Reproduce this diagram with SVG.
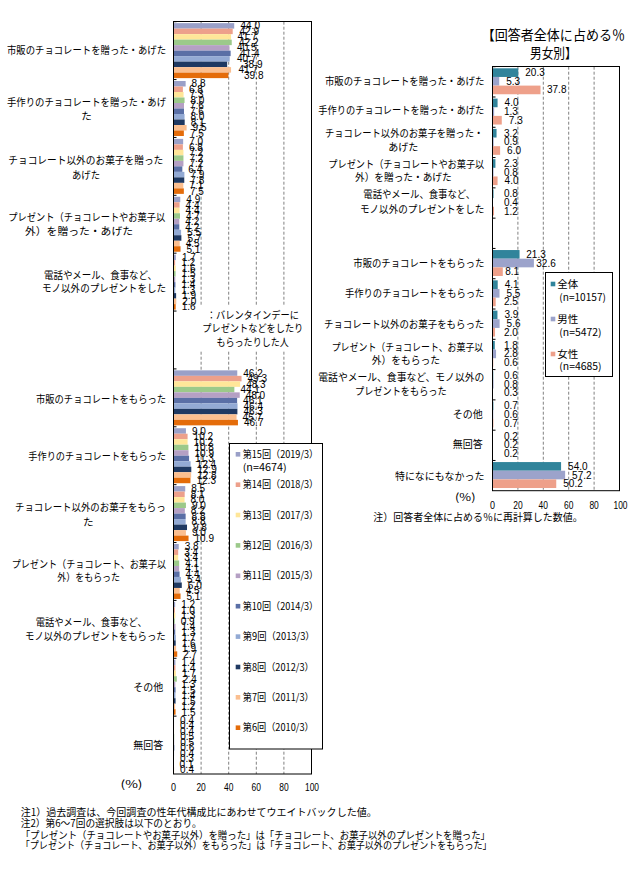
<svg xmlns="http://www.w3.org/2000/svg" width="636" height="869" viewBox="0 0 636 869">
<style>
.c0{fill:#9AA0C8}.c1{fill:#EDA08B}.c2{fill:#FFE699}.c3{fill:#9CC98A}.c4{fill:#B5A0C4}
.c5{fill:#5A6FA6}.c6{fill:#93AAD4}.c7{fill:#1F3962}.c8{fill:#FBBF90}.c9{fill:#E46C0A}
.rt{fill:#31849B}.rm{fill:#9CA3CB}.rf{fill:#EEA08A}
.j{font-family:"Noto Sans CJK JP","Noto Sans CJK SC",sans-serif;font-size:10.5px;fill:#000}
.jl{font-family:"Noto Sans CJK JP","Noto Sans CJK SC",sans-serif;font-size:10px;fill:#000}
.jt{font-family:"Noto Sans CJK JP","Noto Sans CJK SC",sans-serif;font-size:13.5px;fill:#000}
.n{font-family:"Liberation Sans",Arial,sans-serif;font-size:10px;fill:#000}
.ax{font-family:"Liberation Sans",Arial,sans-serif;font-size:11.5px;fill:#000;text-anchor:middle}
.grid{stroke:#808080;stroke-width:1;stroke-dasharray:3,2;fill:none}
.frame{fill:none;stroke:#000;stroke-width:1}
.box{fill:#fff;stroke:#000;stroke-width:1}
.m{text-anchor:middle}
</style>
<rect width="636" height="869" fill="#fff"/>

<!-- LEFT CHART -->
<g id="left-chart">
<g id="left-grid">
<path class="grid" d="M201.1 21.7V774M228.7 21.7V774M256.3 21.7V774M283.9 21.7V774"/>
</g>
<g id="left-g0" transform="translate(0,21.7)">
<rect class="c0" x="173.5" y="1.43" width="60.72" height="5.5"/><rect class="c1" x="173.5" y="6.93" width="59.2" height="5.5"/><rect class="c2" x="173.5" y="12.43" width="57.55" height="5.5"/><rect class="c3" x="173.5" y="17.93" width="58.24" height="5.5"/><rect class="c4" x="173.5" y="23.43" width="55.89" height="5.5"/><rect class="c5" x="173.5" y="28.93" width="57.13" height="5.5"/><rect class="c6" x="173.5" y="34.43" width="56.17" height="5.5"/><rect class="c7" x="173.5" y="39.93" width="53.68" height="5.5"/><rect class="c8" x="173.5" y="45.43" width="57.55" height="5.5"/><rect class="c9" x="173.5" y="50.93" width="54.92" height="5.5"/>
<text class="n" x="240.5" y="7.78">44.0</text><text class="n" x="239.5" y="13.28">42.9</text><text class="n" x="237.5" y="18.78">41.7</text><text class="n" x="239" y="24.28">42.2</text><text class="n" x="237" y="29.78">40.5</text><text class="n" x="240" y="35.28">41.4</text><text class="n" x="237" y="40.78">40.7</text><text class="n" x="243" y="46.28">38.9</text><text class="n" x="238.5" y="51.78">41.7</text><text class="n" x="244" y="57.28">39.8</text>
</g>
<g id="left-g1" transform="translate(0,79.57)">
<rect class="c0" x="173.5" y="1.43" width="12.14" height="5.5"/><rect class="c1" x="173.5" y="6.93" width="9.38" height="5.5"/><rect class="c2" x="173.5" y="12.43" width="10.07" height="5.5"/><rect class="c3" x="173.5" y="17.93" width="11.04" height="5.5"/><rect class="c4" x="173.5" y="23.43" width="10.49" height="5.5"/><rect class="c5" x="173.5" y="28.93" width="10.49" height="5.5"/><rect class="c6" x="173.5" y="34.43" width="11.04" height="5.5"/><rect class="c7" x="173.5" y="39.93" width="11.18" height="5.5"/><rect class="c8" x="173.5" y="45.43" width="13.11" height="5.5"/><rect class="c9" x="173.5" y="50.93" width="10.35" height="5.5"/>
<text class="n" x="191.6" y="7.78">8.8</text><text class="n" x="188.9" y="13.28">6.8</text><text class="n" x="189.6" y="18.78">7.3</text><text class="n" x="190.5" y="24.28">8.0</text><text class="n" x="190" y="29.78">7.6</text><text class="n" x="190" y="35.28">7.6</text><text class="n" x="190.5" y="40.78">8.0</text><text class="n" x="190.7" y="46.28">8.1</text><text class="n" x="192.6" y="51.78">9.5</text><text class="n" x="189.9" y="57.28">7.5</text>
</g>
<g id="left-g2" transform="translate(0,137.44)">
<rect class="c0" x="173.5" y="1.43" width="9.66" height="5.5"/><rect class="c1" x="173.5" y="6.93" width="9.38" height="5.5"/><rect class="c2" x="173.5" y="12.43" width="9.94" height="5.5"/><rect class="c3" x="173.5" y="17.93" width="9.94" height="5.5"/><rect class="c4" x="173.5" y="23.43" width="9.94" height="5.5"/><rect class="c5" x="173.5" y="28.93" width="8.83" height="5.5"/><rect class="c6" x="173.5" y="34.43" width="10.9" height="5.5"/><rect class="c7" x="173.5" y="39.93" width="10.76" height="5.5"/><rect class="c8" x="173.5" y="45.43" width="9.8" height="5.5"/><rect class="c9" x="173.5" y="50.93" width="10.35" height="5.5"/>
<text class="n" x="189.2" y="7.78">7.0</text><text class="n" x="188.9" y="13.28">6.8</text><text class="n" x="189.4" y="18.78">7.2</text><text class="n" x="189.4" y="24.28">7.2</text><text class="n" x="189.4" y="29.78">7.2</text><text class="n" x="188.3" y="35.28">6.4</text><text class="n" x="190.4" y="40.78">7.9</text><text class="n" x="190.3" y="46.28">7.8</text><text class="n" x="189.3" y="51.78">7.1</text><text class="n" x="189.9" y="57.28">7.5</text>
</g>
<g id="left-g3" transform="translate(0,195.31)">
<rect class="c0" x="173.5" y="1.43" width="6.76" height="5.5"/><rect class="c1" x="173.5" y="6.93" width="6.07" height="5.5"/><rect class="c2" x="173.5" y="12.43" width="6.07" height="5.5"/><rect class="c3" x="173.5" y="17.93" width="6.49" height="5.5"/><rect class="c4" x="173.5" y="23.43" width="5.8" height="5.5"/><rect class="c5" x="173.5" y="28.93" width="5.8" height="5.5"/><rect class="c6" x="173.5" y="34.43" width="7.59" height="5.5"/><rect class="c7" x="173.5" y="39.93" width="7.87" height="5.5"/><rect class="c8" x="173.5" y="45.43" width="6.21" height="5.5"/><rect class="c9" x="173.5" y="50.93" width="7.04" height="5.5"/>
<text class="n" x="186.3" y="7.78">4.9</text><text class="n" x="185.6" y="13.28">4.4</text><text class="n" x="185.6" y="18.78">4.4</text><text class="n" x="186" y="24.28">4.7</text><text class="n" x="185.3" y="29.78">4.2</text><text class="n" x="185.3" y="35.28">4.2</text><text class="n" x="187.1" y="40.78">5.5</text><text class="n" x="187.4" y="46.28">5.7</text><text class="n" x="185.7" y="51.78">4.5</text><text class="n" x="186.5" y="57.28">5.1</text>
</g>
<g id="left-g4" transform="translate(0,253.18)">
<rect class="c0" x="173.5" y="1.43" width="2.35" height="5.5"/><rect class="c1" x="173.5" y="6.93" width="1.66" height="5.5"/><rect class="c2" x="173.5" y="12.43" width="2.21" height="5.5"/><rect class="c3" x="173.5" y="17.93" width="2.07" height="5.5"/><rect class="c4" x="173.5" y="23.43" width="1.79" height="5.5"/><rect class="c5" x="173.5" y="28.93" width="1.93" height="5.5"/><rect class="c6" x="173.5" y="34.43" width="1.79" height="5.5"/><rect class="c7" x="173.5" y="39.93" width="2.62" height="5.5"/><rect class="c8" x="173.5" y="45.43" width="2.76" height="5.5"/><rect class="c9" x="173.5" y="50.93" width="2.21" height="5.5"/>
<text class="n" x="181.9" y="7.78">1.7</text><text class="n" x="181.2" y="13.28">1.2</text><text class="n" x="181.7" y="18.78">1.6</text><text class="n" x="181.6" y="24.28">1.5</text><text class="n" x="181.3" y="29.78">1.3</text><text class="n" x="181.4" y="35.28">1.4</text><text class="n" x="181.3" y="40.78">1.3</text><text class="n" x="182.1" y="46.28">1.9</text><text class="n" x="182.3" y="51.78">2.0</text><text class="n" x="181.7" y="57.28">1.6</text>
</g>
<g id="left-note">
<rect x="199" y="306" width="109" height="44" fill="#fff"/>
<text class="j" x="206.7" y="318.8" textLength="92.3" lengthAdjust="spacingAndGlyphs">：バレンタインデーに</text>
<text class="j" x="202.3" y="332.1" textLength="101" lengthAdjust="spacingAndGlyphs">プレゼントなどをしたり</text>
<text class="j" x="216.5" y="345.5" textLength="72.3" lengthAdjust="spacingAndGlyphs">もらったりした人</text>
</g>
<g id="left-g6" transform="translate(0,368.92)">
<rect class="c0" x="173.5" y="1.43" width="63.76" height="5.5"/><rect class="c1" x="173.5" y="6.93" width="68.03" height="5.5"/><rect class="c2" x="173.5" y="12.43" width="66.65" height="5.5"/><rect class="c3" x="173.5" y="17.93" width="60.86" height="5.5"/><rect class="c4" x="173.5" y="23.43" width="66.24" height="5.5"/><rect class="c5" x="173.5" y="28.93" width="63.62" height="5.5"/><rect class="c6" x="173.5" y="34.43" width="64.03" height="5.5"/><rect class="c7" x="173.5" y="39.93" width="63.89" height="5.5"/><rect class="c8" x="173.5" y="45.43" width="63.07" height="5.5"/><rect class="c9" x="173.5" y="50.93" width="64.45" height="5.5"/>
<text class="n" x="243.3" y="7.78">46.2</text><text class="n" x="247.5" y="13.28">49.3</text><text class="n" x="246.2" y="18.78">48.3</text><text class="n" x="240.4" y="24.28">44.1</text><text class="n" x="245.7" y="29.78">48.0</text><text class="n" x="243.1" y="35.28">46.1</text><text class="n" x="243.5" y="40.78">46.4</text><text class="n" x="243.4" y="46.28">46.3</text><text class="n" x="242.6" y="51.78">45.7</text><text class="n" x="244" y="57.28">46.7</text>
</g>
<g id="left-g7" transform="translate(0,426.79)">
<rect class="c0" x="173.5" y="1.43" width="12.42" height="5.5"/><rect class="c1" x="173.5" y="6.93" width="14.08" height="5.5"/><rect class="c2" x="173.5" y="12.43" width="14.08" height="5.5"/><rect class="c3" x="173.5" y="17.93" width="14.9" height="5.5"/><rect class="c4" x="173.5" y="23.43" width="15.04" height="5.5"/><rect class="c5" x="173.5" y="28.93" width="15.59" height="5.5"/><rect class="c6" x="173.5" y="34.43" width="17.11" height="5.5"/><rect class="c7" x="173.5" y="39.93" width="17.8" height="5.5"/><rect class="c8" x="173.5" y="45.43" width="17.66" height="5.5"/><rect class="c9" x="173.5" y="50.93" width="16.97" height="5.5"/>
<text class="n" x="191.9" y="7.78">9.0</text><text class="n" x="193.6" y="13.28">10.2</text><text class="n" x="193.6" y="18.78">10.2</text><text class="n" x="194.4" y="24.28">10.8</text><text class="n" x="194.5" y="29.78">10.9</text><text class="n" x="195.1" y="35.28">11.3</text><text class="n" x="196.6" y="40.78">12.4</text><text class="n" x="197.3" y="46.28">12.9</text><text class="n" x="197.2" y="51.78">12.8</text><text class="n" x="196.5" y="57.28">12.3</text>
</g>
<g id="left-g8" transform="translate(0,484.66)">
<rect class="c0" x="173.5" y="1.43" width="11.73" height="5.5"/><rect class="c1" x="173.5" y="6.93" width="11.18" height="5.5"/><rect class="c2" x="173.5" y="12.43" width="11.04" height="5.5"/><rect class="c3" x="173.5" y="17.93" width="12.42" height="5.5"/><rect class="c4" x="173.5" y="23.43" width="11.32" height="5.5"/><rect class="c5" x="173.5" y="28.93" width="12.14" height="5.5"/><rect class="c6" x="173.5" y="34.43" width="12.14" height="5.5"/><rect class="c7" x="173.5" y="39.93" width="13.52" height="5.5"/><rect class="c8" x="173.5" y="45.43" width="12.42" height="5.5"/><rect class="c9" x="173.5" y="50.93" width="15.04" height="5.5"/>
<text class="n" x="191.2" y="7.78">8.5</text><text class="n" x="190.7" y="13.28">8.1</text><text class="n" x="190.5" y="18.78">8.0</text><text class="n" x="191.9" y="24.28">9.0</text><text class="n" x="190.8" y="29.78">8.2</text><text class="n" x="191.6" y="35.28">8.8</text><text class="n" x="191.6" y="40.78">8.8</text><text class="n" x="193" y="46.28">9.8</text><text class="n" x="191.9" y="51.78">9.0</text><text class="n" x="194.5" y="57.28">10.9</text>
</g>
<g id="left-g9" transform="translate(0,542.53)">
<rect class="c0" x="173.5" y="1.43" width="5.24" height="5.5"/><rect class="c1" x="173.5" y="6.93" width="4.69" height="5.5"/><rect class="c2" x="173.5" y="12.43" width="4.69" height="5.5"/><rect class="c3" x="173.5" y="17.93" width="5.66" height="5.5"/><rect class="c4" x="173.5" y="23.43" width="5.66" height="5.5"/><rect class="c5" x="173.5" y="28.93" width="6.07" height="5.5"/><rect class="c6" x="173.5" y="34.43" width="7.45" height="5.5"/><rect class="c7" x="173.5" y="39.93" width="8.28" height="5.5"/><rect class="c8" x="173.5" y="45.43" width="6.21" height="5.5"/><rect class="c9" x="173.5" y="50.93" width="7.04" height="5.5"/>
<text class="n" x="184.7" y="7.78">3.8</text><text class="n" x="184.2" y="13.28">3.4</text><text class="n" x="184.2" y="18.78">3.4</text><text class="n" x="185.2" y="24.28">4.1</text><text class="n" x="185.2" y="29.78">4.1</text><text class="n" x="185.6" y="35.28">4.4</text><text class="n" x="187" y="40.78">5.4</text><text class="n" x="187.8" y="46.28">6.0</text><text class="n" x="185.7" y="51.78">4.5</text><text class="n" x="186.5" y="57.28">5.1</text>
</g>
<g id="left-g10" transform="translate(0,600.4)">
<rect class="c0" x="173.5" y="1.43" width="1.66" height="5.5"/><rect class="c1" x="173.5" y="6.93" width="1.38" height="5.5"/><rect class="c2" x="173.5" y="12.43" width="1.79" height="5.5"/><rect class="c3" x="173.5" y="17.93" width="1.24" height="5.5"/><rect class="c4" x="173.5" y="23.43" width="1.93" height="5.5"/><rect class="c5" x="173.5" y="28.93" width="1.79" height="5.5"/><rect class="c6" x="173.5" y="34.43" width="2.35" height="5.5"/><rect class="c7" x="173.5" y="39.93" width="2.21" height="5.5"/><rect class="c8" x="173.5" y="45.43" width="2.62" height="5.5"/><rect class="c9" x="173.5" y="50.93" width="3.73" height="5.5"/>
<text class="n" x="181.2" y="7.78">1.2</text><text class="n" x="180.9" y="13.28">1.0</text><text class="n" x="181.3" y="18.78">1.3</text><text class="n" x="180.7" y="24.28">0.9</text><text class="n" x="181.4" y="29.78">1.4</text><text class="n" x="181.3" y="35.28">1.3</text><text class="n" x="181.9" y="40.78">1.7</text><text class="n" x="181.7" y="46.28">1.6</text><text class="n" x="182.1" y="51.78">1.9</text><text class="n" x="183.2" y="57.28">2.7</text>
</g>
<g id="left-g11" transform="translate(0,658.27)">
<rect class="c0" x="173.5" y="1.43" width="1.93" height="5.5"/><rect class="c1" x="173.5" y="6.93" width="1.93" height="5.5"/><rect class="c2" x="173.5" y="12.43" width="2.35" height="5.5"/><rect class="c3" x="173.5" y="17.93" width="3.31" height="5.5"/><rect class="c4" x="173.5" y="23.43" width="1.79" height="5.5"/><rect class="c5" x="173.5" y="28.93" width="2.07" height="5.5"/><rect class="c6" x="173.5" y="34.43" width="1.93" height="5.5"/><rect class="c7" x="173.5" y="39.93" width="2.07" height="5.5"/><rect class="c8" x="173.5" y="45.43" width="1.66" height="5.5"/><rect class="c9" x="173.5" y="50.93" width="2.07" height="5.5"/>
<text class="n" x="181.4" y="7.78">1.4</text><text class="n" x="181.4" y="13.28">1.4</text><text class="n" x="181.9" y="18.78">1.7</text><text class="n" x="182.8" y="24.28">2.4</text><text class="n" x="181.3" y="29.78">1.3</text><text class="n" x="181.6" y="35.28">1.5</text><text class="n" x="181.4" y="40.78">1.4</text><text class="n" x="181.6" y="46.28">1.5</text><text class="n" x="181.2" y="51.78">1.2</text><text class="n" x="181.6" y="57.28">1.5</text>
</g>
<g id="left-g12" transform="translate(0,716.14)">
<rect class="c0" x="173.5" y="1.43" width="0.55" height="5.5"/><rect class="c1" x="173.5" y="6.93" width="0.55" height="5.5"/><rect class="c2" x="173.5" y="12.43" width="0.55" height="5.5"/><rect class="c3" x="173.5" y="17.93" width="0.69" height="5.5"/><rect class="c4" x="173.5" y="23.43" width="0.69" height="5.5"/><rect class="c5" x="173.5" y="28.93" width="0.83" height="5.5"/><rect class="c6" x="173.5" y="34.43" width="0.55" height="5.5"/><rect class="c7" x="173.5" y="39.93" width="0.41" height="5.5"/><rect class="c8" x="173.5" y="45.43" width="0.14" height="5.5"/><rect class="c9" x="173.5" y="50.93" width="0.55" height="5.5"/>
<text class="n" x="180.1" y="7.78">0.4</text><text class="n" x="180.1" y="13.28">0.4</text><text class="n" x="180.1" y="18.78">0.4</text><text class="n" x="180.2" y="24.28">0.5</text><text class="n" x="180.2" y="29.78">0.5</text><text class="n" x="180.3" y="35.28">0.6</text><text class="n" x="180.1" y="40.78">0.4</text><text class="n" x="179.9" y="46.28">0.3</text><text class="n" x="179.6" y="51.78">0.1</text><text class="n" x="180.1" y="57.28">0.4</text>
</g>
<g id="left-axes">
<rect class="frame" x="173.5" y="21.5" width="138" height="752.5"/>
<path class="frame" d="M173.5 21.7h3M173.5 79.57h3M173.5 137.44h3M173.5 195.31h3M173.5 253.18h3M173.5 311.05h3M173.5 368.92h3M173.5 426.79h3M173.5 484.66h3M173.5 542.53h3M173.5 600.4h3M173.5 658.27h3M173.5 716.14h3"/>
<text class="ax" x="173.5" y="791" textLength="5" lengthAdjust="spacingAndGlyphs">0</text>
<text class="ax" x="201.1" y="791" textLength="9.4" lengthAdjust="spacingAndGlyphs">20</text>
<text class="ax" x="228.7" y="791" textLength="9.4" lengthAdjust="spacingAndGlyphs">40</text>
<text class="ax" x="256.3" y="791" textLength="9.4" lengthAdjust="spacingAndGlyphs">60</text>
<text class="ax" x="283.9" y="791" textLength="9.4" lengthAdjust="spacingAndGlyphs">80</text>
<text class="ax" x="312" y="791" textLength="14" lengthAdjust="spacingAndGlyphs">100</text>
<text class="j" x="120.5" y="788" textLength="22" lengthAdjust="spacingAndGlyphs">(%)</text>
</g>
<g id="left-labels">
<text class="j" x="7" y="54.4" textLength="159" lengthAdjust="spacingAndGlyphs">市販のチョコレートを贈った・あげた</text>
<text class="j" x="7" y="105.5" textLength="159" lengthAdjust="spacingAndGlyphs">手作りのチョコレートを贈った・あげ</text>
<text class="j m" x="86.5" y="119.8">た</text>
<text class="j" x="8.3" y="163.5" textLength="155" lengthAdjust="spacingAndGlyphs">チョコレート以外のお菓子を贈った</text>
<text class="j" x="72" y="178.5" textLength="28" lengthAdjust="spacingAndGlyphs">あげた</text>
<text class="j" x="8.3" y="220.5" textLength="157" lengthAdjust="spacingAndGlyphs">プレゼント（チョコレートやお菓子以</text>
<text class="j" x="25" y="234.8" textLength="108" lengthAdjust="spacingAndGlyphs">外）を贈った・あげた</text>
<text class="j" x="44" y="278.8" textLength="113" lengthAdjust="spacingAndGlyphs">電話やメール、食事など、</text>
<text class="j" x="42" y="292.1" textLength="124" lengthAdjust="spacingAndGlyphs">モノ以外のプレゼントをした</text>
<text class="j" x="36" y="403.1" textLength="130" lengthAdjust="spacingAndGlyphs">市販のチョコレートをもらった</text>
<text class="j" x="28.3" y="459.8" textLength="137.7" lengthAdjust="spacingAndGlyphs">手作りのチョコレートをもらった</text>
<text class="j" x="15" y="511.1" textLength="150.7" lengthAdjust="spacingAndGlyphs">チョコレート以外のお菓子をもらっ</text>
<text class="j m" x="88.3" y="525.5">た</text>
<text class="j" x="11.7" y="567.8" textLength="154.3" lengthAdjust="spacingAndGlyphs">プレゼント（チョコレート、お菓子以</text>
<text class="j" x="57.3" y="581.1" textLength="62.7" lengthAdjust="spacingAndGlyphs">外）をもらった</text>
<text class="j" x="35.7" y="626.1" textLength="111" lengthAdjust="spacingAndGlyphs">電話やメール、食事など、</text>
<text class="j" x="25" y="639.5" textLength="140.7" lengthAdjust="spacingAndGlyphs">モノ以外のプレゼントをもらった</text>
<text class="j" x="133.3" y="691.1" textLength="30" lengthAdjust="spacingAndGlyphs">その他</text>
<text class="j" x="133.3" y="748.8" textLength="30" lengthAdjust="spacingAndGlyphs">無回答</text>
</g>
<g id="left-legend">
<rect class="box" x="229.5" y="443.5" width="93" height="305.5"/>
<rect class="c0" x="235.7" y="452" width="4.6" height="4.6"/><text class="jl" x="242.7" y="457.9" textLength="75.5" lengthAdjust="spacingAndGlyphs">第15回（2019/3）</text>
<text class="jl" x="242.7" y="471.3" textLength="44" lengthAdjust="spacingAndGlyphs">(n=4674)</text>
<rect class="c1" x="235.7" y="482.4" width="4.6" height="4.6"/><text class="jl" x="242.7" y="488.3" textLength="75.5" lengthAdjust="spacingAndGlyphs">第14回（2018/3）</text>
<rect class="c2" x="235.7" y="512.7" width="4.6" height="4.6"/><text class="jl" x="242.7" y="518.6" textLength="75.5" lengthAdjust="spacingAndGlyphs">第13回（2017/3）</text>
<rect class="c3" x="235.7" y="543.1" width="4.6" height="4.6"/><text class="jl" x="242.7" y="549" textLength="75.5" lengthAdjust="spacingAndGlyphs">第12回（2016/3）</text>
<rect class="c4" x="235.7" y="573.5" width="4.6" height="4.6"/><text class="jl" x="242.7" y="579.4" textLength="75.5" lengthAdjust="spacingAndGlyphs">第11回（2015/3）</text>
<rect class="c5" x="235.7" y="603.9" width="4.6" height="4.6"/><text class="jl" x="242.7" y="609.8" textLength="75.5" lengthAdjust="spacingAndGlyphs">第10回（2014/3）</text>
<rect class="c6" x="235.7" y="634.3" width="4.6" height="4.6"/><text class="jl" x="242.7" y="640.2" textLength="72" lengthAdjust="spacingAndGlyphs">第9回（2013/3）</text>
<rect class="c7" x="235.7" y="664.7" width="4.6" height="4.6"/><text class="jl" x="242.7" y="670.6" textLength="71" lengthAdjust="spacingAndGlyphs">第8回（2012/3）</text>
<rect class="c8" x="235.7" y="695" width="4.6" height="4.6"/><text class="jl" x="242.7" y="700.9" textLength="71" lengthAdjust="spacingAndGlyphs">第7回（2011/3）</text>
<rect class="c9" x="235.7" y="725.4" width="4.6" height="4.6"/><text class="jl" x="242.7" y="731.3" textLength="71" lengthAdjust="spacingAndGlyphs">第6回（2010/3）</text>
</g>
</g>

<!-- RIGHT CHART -->
<g id="right-chart">
<g id="right-title">
<text class="jt" x="481.7" y="39.9" textLength="143.3" lengthAdjust="spacingAndGlyphs">【回答者全体に占める％</text>
<text class="jt" x="530" y="58.2" textLength="46.7" lengthAdjust="spacingAndGlyphs">男女別】</text>
</g>
<g id="right-grid">
<path class="grid" d="M517.9 66.7V490.7M543.3 66.7V490.7M568.7 66.7V490.7M594.1 66.7V490.7"/>
</g>
<g id="right-g0" transform="translate(0,66.7)">
<rect class="rt" x="492.5" y="1.6" width="25.78" height="8.65"/><rect class="rm" x="492.5" y="10.25" width="6.73" height="8.65"/><rect class="rf" x="492.5" y="18.9" width="48.01" height="8.65"/>
<text class="n" x="525.3" y="9.43">20.3</text><text class="n" x="506.2" y="18.08">5.3</text><text class="n" x="547" y="26.73">37.8</text>
</g>
<g id="right-g1" transform="translate(0,96.99)">
<rect class="rt" x="492.5" y="1.6" width="5.08" height="8.65"/><rect class="rm" x="492.5" y="10.25" width="1.65" height="8.65"/><rect class="rf" x="492.5" y="18.9" width="9.27" height="8.65"/>
<text class="n" x="504.6" y="9.43">4.0</text><text class="n" x="504" y="18.08">1.3</text><text class="n" x="508.8" y="26.73">7.3</text>
</g>
<g id="right-g2" transform="translate(0,127.28)">
<rect class="rt" x="492.5" y="1.6" width="4.06" height="8.65"/><rect class="rm" x="492.5" y="10.25" width="1.14" height="8.65"/><rect class="rf" x="492.5" y="18.9" width="7.62" height="8.65"/>
<text class="n" x="504" y="9.43">3.2</text><text class="n" x="504" y="18.08">0.9</text><text class="n" x="507.1" y="26.73">6.0</text>
</g>
<g id="right-g3" transform="translate(0,157.57)">
<rect class="rt" x="492.5" y="1.6" width="2.92" height="8.65"/><rect class="rm" x="492.5" y="10.25" width="1.02" height="8.65"/><rect class="rf" x="492.5" y="18.9" width="5.08" height="8.65"/>
<text class="n" x="504" y="9.43">2.3</text><text class="n" x="504" y="18.08">0.8</text><text class="n" x="504.6" y="26.73">4.0</text>
</g>
<g id="right-g4" transform="translate(0,187.86)">
<rect class="rt" x="492.5" y="1.6" width="1.02" height="8.65"/><rect class="rm" x="492.5" y="10.25" width="0.51" height="8.65"/><rect class="rf" x="492.5" y="18.9" width="1.52" height="8.65"/>
<text class="n" x="504" y="9.43">0.8</text><text class="n" x="504" y="18.08">0.4</text><text class="n" x="504" y="26.73">1.2</text>
</g>
<g id="right-g6" transform="translate(0,248.44)">
<rect class="rt" x="492.5" y="1.6" width="27.05" height="8.65"/><rect class="rm" x="492.5" y="10.25" width="41.4" height="8.65"/><rect class="rf" x="492.5" y="18.9" width="10.29" height="8.65"/>
<text class="n" x="526.3" y="9.43">21.3</text><text class="n" x="536.3" y="18.08">32.6</text><text class="n" x="505.2" y="26.73">8.1</text>
</g>
<g id="right-g7" transform="translate(0,278.73)">
<rect class="rt" x="492.5" y="1.6" width="5.21" height="8.65"/><rect class="rm" x="492.5" y="10.25" width="6.99" height="8.65"/><rect class="rf" x="492.5" y="18.9" width="3.18" height="8.65"/>
<text class="n" x="504.7" y="9.43">4.1</text><text class="n" x="506.5" y="18.08">5.5</text><text class="n" x="504" y="26.73">2.5</text>
</g>
<g id="right-g8" transform="translate(0,309.02)">
<rect class="rt" x="492.5" y="1.6" width="4.95" height="8.65"/><rect class="rm" x="492.5" y="10.25" width="7.11" height="8.65"/><rect class="rf" x="492.5" y="18.9" width="2.54" height="8.65"/>
<text class="n" x="504.5" y="9.43">3.9</text><text class="n" x="506.6" y="18.08">5.6</text><text class="n" x="504" y="26.73">2.0</text>
</g>
<g id="right-g9" transform="translate(0,339.31)">
<rect class="rt" x="492.5" y="1.6" width="2.29" height="8.65"/><rect class="rm" x="492.5" y="10.25" width="3.56" height="8.65"/><rect class="rf" x="492.5" y="18.9" width="0.76" height="8.65"/>
<text class="n" x="504" y="9.43">1.8</text><text class="n" x="504" y="18.08">2.8</text><text class="n" x="504" y="26.73">0.6</text>
</g>
<g id="right-g10" transform="translate(0,369.6)">
<rect class="rt" x="492.5" y="1.6" width="0.76" height="8.65"/><rect class="rm" x="492.5" y="10.25" width="1.02" height="8.65"/><rect class="rf" x="492.5" y="18.9" width="0.38" height="8.65"/>
<text class="n" x="504" y="9.43">0.6</text><text class="n" x="504" y="18.08">0.8</text><text class="n" x="504" y="26.73">0.3</text>
</g>
<g id="right-g11" transform="translate(0,399.89)">
<rect class="rt" x="492.5" y="1.6" width="0.89" height="8.65"/><rect class="rm" x="492.5" y="10.25" width="0.76" height="8.65"/><rect class="rf" x="492.5" y="18.9" width="0.89" height="8.65"/>
<text class="n" x="504" y="9.43">0.7</text><text class="n" x="504" y="18.08">0.6</text><text class="n" x="504" y="26.73">0.7</text>
</g>
<g id="right-g12" transform="translate(0,430.18)">
<rect class="rt" x="492.5" y="1.6" width="0.25" height="8.65"/><rect class="rm" x="492.5" y="10.25" width="0.25" height="8.65"/><rect class="rf" x="492.5" y="18.9" width="0.25" height="8.65"/>
<text class="n" x="504" y="9.43">0.2</text><text class="n" x="504" y="18.08">0.2</text><text class="n" x="504" y="26.73">0.2</text>
</g>
<g id="right-g13" transform="translate(0,460.47)">
<rect class="rt" x="492.5" y="1.6" width="68.58" height="8.65"/><rect class="rm" x="492.5" y="10.25" width="72.64" height="8.65"/><rect class="rf" x="492.5" y="18.9" width="63.75" height="8.65"/>
<text class="n" x="568.1" y="9.43">54.0</text><text class="n" x="572.1" y="18.08">57.2</text><text class="n" x="563.3" y="26.73">50.2</text>
</g>
<g id="right-axes">
<rect class="frame" x="492.5" y="66.5" width="127" height="424.2"/>
<path class="frame" d="M492.5 66.7h3M492.5 96.99h3M492.5 127.28h3M492.5 157.57h3M492.5 187.86h3M492.5 218.15h3M492.5 248.44h3M492.5 278.73h3M492.5 309.02h3M492.5 339.31h3M492.5 369.6h3M492.5 399.89h3M492.5 430.18h3M492.5 460.47h3"/>
<text class="ax" x="492.5" y="509" textLength="5" lengthAdjust="spacingAndGlyphs">0</text>
<text class="ax" x="517.9" y="509" textLength="9.4" lengthAdjust="spacingAndGlyphs">20</text>
<text class="ax" x="543.3" y="509" textLength="9.4" lengthAdjust="spacingAndGlyphs">40</text>
<text class="ax" x="568.7" y="509" textLength="9.4" lengthAdjust="spacingAndGlyphs">60</text>
<text class="ax" x="594.1" y="509" textLength="9.4" lengthAdjust="spacingAndGlyphs">80</text>
<text class="ax" x="620.5" y="509" textLength="14" lengthAdjust="spacingAndGlyphs">100</text>
<text class="j" x="455" y="501" textLength="20.5" lengthAdjust="spacingAndGlyphs">(%)</text>
</g>
<g id="right-labels">
<text class="j" x="325" y="84.8" textLength="159.3" lengthAdjust="spacingAndGlyphs">市販のチョコレートを贈った・あげた</text>
<text class="j" x="318.3" y="113.8" textLength="166" lengthAdjust="spacingAndGlyphs">手作りのチョコレートを贈った・あげた</text>
<text class="j" x="325" y="137.1" textLength="158.3" lengthAdjust="spacingAndGlyphs">チョコレート以外のお菓子を贈った・</text>
<text class="j" x="388.3" y="151.1" textLength="30" lengthAdjust="spacingAndGlyphs">あげた</text>
<text class="j" x="328.3" y="167.8" textLength="156" lengthAdjust="spacingAndGlyphs">プレゼント（チョコレートやお菓子以</text>
<text class="j" x="355" y="181.1" textLength="96.7" lengthAdjust="spacingAndGlyphs">外）を贈った・あげた</text>
<text class="j" x="363.3" y="197.8" textLength="111.7" lengthAdjust="spacingAndGlyphs">電話やメール、食事など、</text>
<text class="j" x="360" y="213.1" textLength="124.3" lengthAdjust="spacingAndGlyphs">モノ以外のプレゼントをした</text>
<text class="j" x="353.3" y="267.1" textLength="131" lengthAdjust="spacingAndGlyphs">市販のチョコレートをもらった</text>
<text class="j" x="345" y="296.5" textLength="139.3" lengthAdjust="spacingAndGlyphs">手作りのチョコレートをもらった</text>
<text class="j" x="324" y="327.8" textLength="160.3" lengthAdjust="spacingAndGlyphs">チョコレート以外のお菓子をもらった</text>
<text class="j" x="331.7" y="350.8" textLength="151.6" lengthAdjust="spacingAndGlyphs">プレゼント（チョコレート、お菓子以</text>
<text class="j" x="371.7" y="363.8" textLength="68.3" lengthAdjust="spacingAndGlyphs">外）をもらった</text>
<text class="j" x="318.3" y="380.5" textLength="166" lengthAdjust="spacingAndGlyphs">電話やメール、食事など、モノ以外の</text>
<text class="j" x="355" y="394.8" textLength="91.7" lengthAdjust="spacingAndGlyphs">プレゼントをもらった</text>
<text class="j" x="452.7" y="417.8" textLength="30" lengthAdjust="spacingAndGlyphs">その他</text>
<text class="j" x="452.7" y="447.8" textLength="30" lengthAdjust="spacingAndGlyphs">無回答</text>
<text class="j" x="395" y="479.8" textLength="89.3" lengthAdjust="spacingAndGlyphs">特になにもなかった</text>
</g>
<g id="right-legend">
<rect class="box" x="545.5" y="272.5" width="67" height="104"/>
<rect class="rt" x="550.7" y="281.7" width="4.6" height="4.6"/><text class="jl" x="557.3" y="287.6" textLength="21" lengthAdjust="spacingAndGlyphs">全体</text>
<text class="jl" x="559.3" y="301.3" textLength="46.7" lengthAdjust="spacingAndGlyphs">(n=10157)</text>
<rect class="rm" x="550.7" y="316.7" width="4.6" height="4.6"/><text class="jl" x="557.3" y="322.6" textLength="21" lengthAdjust="spacingAndGlyphs">男性</text>
<text class="jl" x="559.3" y="336.3" textLength="42.3" lengthAdjust="spacingAndGlyphs">(n=5472)</text>
<rect class="rf" x="550.7" y="351.7" width="4.6" height="4.6"/><text class="jl" x="557.3" y="357.6" textLength="21" lengthAdjust="spacingAndGlyphs">女性</text>
<text class="jl" x="559.3" y="370.3" textLength="42.3" lengthAdjust="spacingAndGlyphs">(n=4685)</text>
</g>
<text id="right-note" class="j" x="373.3" y="521.1" textLength="209.4" lengthAdjust="spacingAndGlyphs">注）回答者全体に占める％に再計算した数値。</text>
</g>

<g id="notes">
<text class="jl" x="20.7" y="816.3" textLength="356" lengthAdjust="spacingAndGlyphs">注1）過去調査は、今回調査の性年代構成比にあわせてウエイトバックした値。</text>
<text class="jl" x="20.7" y="826.9" textLength="181" lengthAdjust="spacingAndGlyphs">注2）第6～7回の選択肢は以下のとおり。</text>
<text class="jl" x="20.7" y="838.6" textLength="469.3" lengthAdjust="spacingAndGlyphs">「プレゼント（チョコレートやお菓子以外）を贈った」は「チョコレート、お菓子以外のプレゼントを贈った」</text>
<text class="jl" x="20.7" y="849.3" textLength="471" lengthAdjust="spacingAndGlyphs">「プレゼント（チョコレート、お菓子以外）をもらった」は「チョコレート、お菓子以外のプレゼントをもらった」</text>
</g>
</svg>
